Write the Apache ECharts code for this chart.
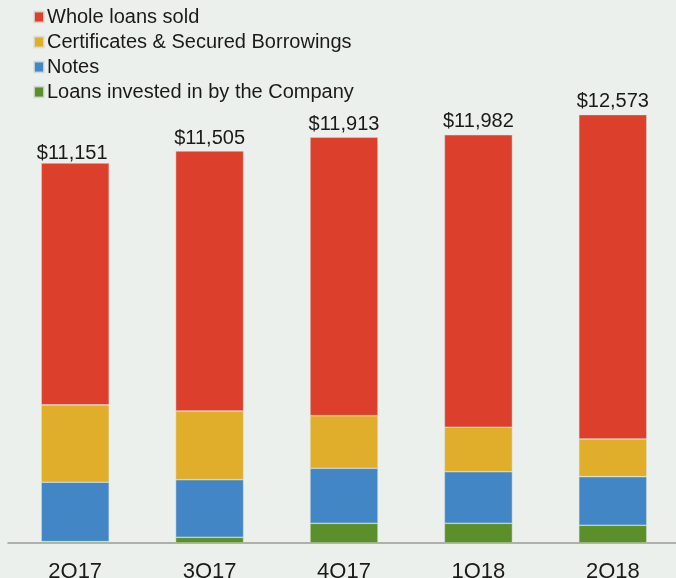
<!DOCTYPE html>
<html>
<head>
<meta charset="utf-8">
<script src="https://cdn.jsdelivr.net/npm/echarts@6/dist/echarts.min.js"></script>
<style>
html,body{margin:0;padding:0;background:#ECF0EC;}
#main{width:676px;height:578px;}
</style>
</head>
<body>
<div id="main"></div>
<script>
const categories = ['2Q17', '3Q17', '4Q17', '1Q18', '2Q18'];
const totals = [11151, 11505, 11913, 11982, 12573];
const loansInvested = [40, 167, 578, 578, 520];
const notes = [1744, 1691, 1615, 1515, 1427];
const certificates = [2270, 2017, 1544, 1304, 1107];
const wholeLoans = [7097, 7630, 8176, 8585, 9519];
const seriesNames = ['Whole loans sold', 'Certificates & Secured Borrowings', 'Notes', 'Loans invested in by the Company'];
const colors = {
  whole: '#DD3F2D',
  cert: '#E1AE2B',
  notes: '#4386C5',
  green: '#5B8F2A'
};

const chart = echarts.init(document.getElementById('main'));
const fontFamily = 'Liberation Sans, Arial, sans-serif';
const itemStyle = c => ({ color: c, borderColor: 'rgba(220,225,220,0.8)', borderWidth: 0.6 });
const fmt = v => '$' + v.toLocaleString('en-US');

const wholeData = wholeLoans.map((v, i) => i === 0
  ? { value: v, label: { distance: 0, offset: [-3, 0] } }
  : v);

chart.setOption({
  backgroundColor: '#ECF0EC',
  animation: false,
  textStyle: { fontFamily },
  legend: {
    orient: 'vertical',
    left: 33,
    top: 7,
    padding: 0,
    itemWidth: 10,
    itemHeight: 11,
    itemGap: 5,
    icon: 'rect',
    data: seriesNames,
    textStyle: { fontSize: 20, color: '#1a1a1a', fontFamily, lineHeight: 20, padding: [0, 0, 0, -2] }
  },
  grid: { left: 8, right: -4, top: 66, bottom: 35, containLabel: false, outerBoundsMode: 'none' },
  xAxis: {
    type: 'category',
    data: categories,
    axisLine: { lineStyle: { color: '#999999', width: 1.5 } },
    axisTick: { show: false },
    axisLabel: { fontSize: 22, color: '#1a1a1a', margin: 18, fontFamily }
  },
  yAxis: {
    type: 'value',
    min: 0,
    max: 14000,
    show: false,
    splitLine: { show: false }
  },
  series: [
    {
      name: 'Loans invested in by the Company', type: 'bar', stack: 'a', barWidth: 68,
      data: loansInvested, itemStyle: itemStyle(colors.green)
    },
    {
      name: 'Notes', type: 'bar', stack: 'a', barWidth: 68,
      data: notes, itemStyle: itemStyle(colors.notes)
    },
    {
      name: 'Certificates & Secured Borrowings', type: 'bar', stack: 'a', barWidth: 68,
      data: certificates, itemStyle: itemStyle(colors.cert)
    },
    {
      name: 'Whole loans sold', type: 'bar', stack: 'a', barWidth: 68,
      data: wholeData, itemStyle: itemStyle(colors.whole),
      label: {
        show: true, position: 'top', distance: 3,
        fontSize: 20, color: '#1a1a1a', fontFamily,
        formatter: p => fmt(totals[p.dataIndex])
      }
    }
  ]
});
</script>
</body>
</html>
